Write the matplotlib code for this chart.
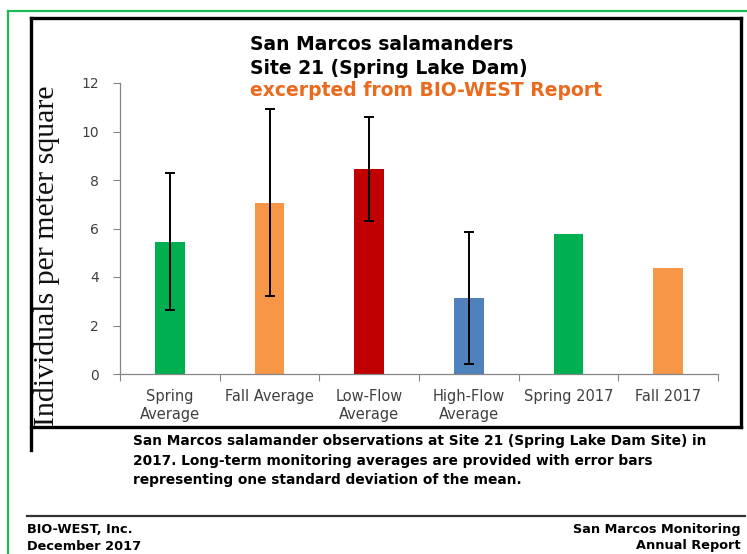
import matplotlib
matplotlib.use("Agg")
import matplotlib.pyplot as plt
from matplotlib.lines import Line2D
import numpy as np

# ---- data ----
categories = ["Spring\nAverage", "Fall Average", "Low-Flow\nAverage",
              "High-Flow\nAverage", "Spring 2017", "Fall 2017"]
values = [5.45, 7.07, 8.45, 3.12, 5.76, 4.36]
errors = [2.83, 3.86, 2.14, 2.72, 0.0, 0.0]
has_err = [True, True, True, True, False, False]
bar_colors = ["#00b050", "#f79646", "#c00000", "#4f81bd", "#00b050", "#f79646"]
yticks = [0, 2, 4, 6, 8, 10, 12]

W, H = 747, 554
fig = plt.figure(figsize=(W / 100, H / 100), dpi=100)
fig.patch.set_facecolor("white")

def fx(px):
    return px / W

def fy(py):
    return 1 - py / H

# axes: x from 120 to 718 px, y=0 at 374 px, y=12 at 83 px
ax = fig.add_axes([fx(120), fy(374), fx(718) - fx(120), (374 - 83) / H])
x = np.arange(len(categories))
ax.bar(x, values, width=0.3, color=bar_colors, zorder=2)
ex = [i for i in x if has_err[i]]
ax.errorbar(ex, [values[i] for i in ex], yerr=[errors[i] for i in ex],
            fmt="none", ecolor="black", elinewidth=1.4, capsize=3.5,
            capthick=1.4, zorder=3)
ax.set_xlim(-0.5, len(categories) - 0.5)
ax.set_ylim(0, 12)
ax.set_yticks(yticks)
ax.set_yticklabels([str(t) for t in yticks], fontsize=10, color="#404040")
ax.set_xticks(x)
ax.set_xticklabels(categories, fontsize=10.5, color="#404040", linespacing=1.25)
ax.set_xticks(np.arange(-0.5, len(categories)), minor=True)
ax.tick_params(axis="x", which="major", length=0, pad=11)
ax.tick_params(axis="x", which="minor", length=5, color="#868686", width=0.8)
ax.tick_params(axis="y", length=5, color="#868686", width=0.8, pad=10)
for s in ["top", "right"]:
    ax.spines[s].set_visible(False)
for s in ["left", "bottom"]:
    ax.spines[s].set_color("#868686")
    ax.spines[s].set_linewidth(0.9)

# y label (serif)
fig.text(fx(47), fy(256), "Individuals per meter square", rotation=90,
         fontsize=21.5, family="Liberation Serif", ha="center", va="center",
         color="#111111")

# title lines
fig.text(fx(250), fy(45), "San Marcos salamanders", fontsize=13.5,
         fontweight="bold", ha="left", va="center", color="black")
fig.text(fx(250), fy(68), "Site 21 (Spring Lake Dam)", fontsize=13.5,
         fontweight="bold", ha="left", va="center", color="black")
fig.text(fx(250), fy(91), "excerpted from BIO-WEST Report", fontsize=13.5,
         fontweight="bold", ha="left", va="center", color="#ea6a1e")

# black frame around chart
lw_box = 2.4
fig.add_artist(Line2D([fx(31), fx(741)], [fy(18), fy(18)], color="black", lw=lw_box))
fig.add_artist(Line2D([fx(741), fx(741)], [fy(18), fy(427)], color="black", lw=lw_box))
fig.add_artist(Line2D([fx(31), fx(741)], [fy(427), fy(427)], color="black", lw=lw_box))
fig.add_artist(Line2D([fx(31), fx(31)], [fy(18), fy(450)], color="black", lw=lw_box))

# caption
caption = ("San Marcos salamander observations at Site 21 (Spring Lake Dam Site) in\n"
           "2017. Long-term monitoring averages are provided with error bars\n"
           "representing one standard deviation of the mean.")
fig.text(fx(133), fy(434), caption, fontsize=9.9, fontweight="bold",
         ha="left", va="top", linespacing=1.5, color="black")

# footer
fig.add_artist(Line2D([fx(27), fx(745)], [fy(516), fy(516)], color="#333333", lw=1.6))
fig.text(fx(27), fy(523), "BIO-WEST, Inc.\nDecember 2017", fontsize=9.3,
         fontweight="bold", ha="left", va="top", linespacing=1.35)
fig.text(fx(741), fy(523), "San Marcos Monitoring\nAnnual Report", fontsize=9.3,
         fontweight="bold", ha="right", va="top", linespacing=1.35,
         multialignment="right")

# green border
green = "#1db954"
fig.add_artist(Line2D([fx(8), fx(8)], [fy(11), 0], color=green, lw=1.6))
fig.add_artist(Line2D([fx(8), 1], [fy(11), fy(11)], color=green, lw=1.6))

fig.savefig("out.png", dpi=100, facecolor="white")
